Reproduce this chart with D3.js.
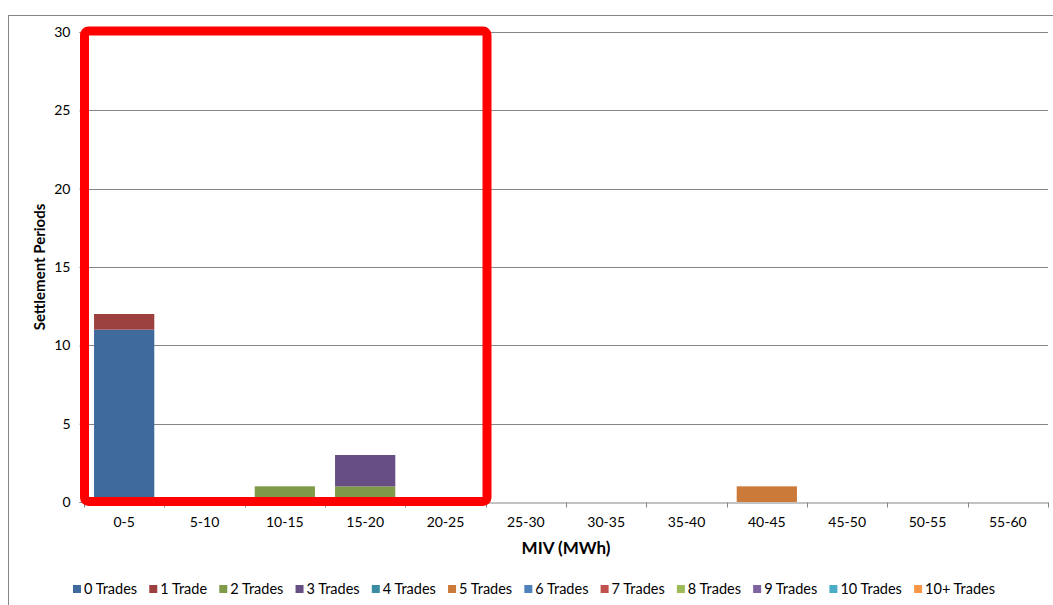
<!DOCTYPE html>
<html>
<head>
<meta charset="utf-8">
<script src="https://cdn.jsdelivr.net/npm/d3@7/dist/d3.min.js"></script>
<style>
  html, body { margin: 0; padding: 0; background: #fff; }
  svg { display: block; font-family: Lato, "Open Sans", sans-serif; }
</style>
</head>
<body>
<svg id="chart" width="1053" height="605"></svg>
<script>
const categories = ["0-5","5-10","10-15","15-20","20-25","25-30","30-35","35-40","40-45","45-50","50-55","55-60"];
const seriesNames = ["0 Trades","1 Trade","2 Trades","3 Trades","4 Trades","5 Trades","6 Trades","7 Trades","8 Trades","9 Trades","10 Trades","10+ Trades"];
const seriesColors = ["#3E6A9C","#9C413F","#7F9A48","#674F86","#3A8CA3","#CC7A3A","#4F81BD","#C0504D","#9BBB59","#8064A2","#4BACC6","#F79646"];
const trades0  = [11,0,0,0,0,0,0,0,0,0,0,0];
const trades1  = [1,0,0,0,0,0,0,0,0,0,0,0];
const trades2  = [0,0,1,1,0,0,0,0,0,0,0,0];
const trades3  = [0,0,0,2,0,0,0,0,0,0,0,0];
const trades4  = [0,0,0,0,0,0,0,0,0,0,0,0];
const trades5  = [0,0,0,0,0,0,0,0,1,0,0,0];
const trades6  = [0,0,0,0,0,0,0,0,0,0,0,0];
const trades7  = [0,0,0,0,0,0,0,0,0,0,0,0];
const trades8  = [0,0,0,0,0,0,0,0,0,0,0,0];
const trades9  = [0,0,0,0,0,0,0,0,0,0,0,0];
const trades10 = [0,0,0,0,0,0,0,0,0,0,0,0];
const trades10p= [0,0,0,0,0,0,0,0,0,0,0,0];
const yTicks = [0,5,10,15,20,25,30];
const xTitle = "MIV (MWh)";
const yTitle = "Settlement Periods";

(function(){
const allSeries = [trades0,trades1,trades2,trades3,trades4,trades5,trades6,trades7,trades8,trades9,trades10,trades10p];
const table = categories.map((c,i) => {
  const row = {cat: c};
  seriesNames.forEach((s,j) => row[s] = allSeries[j][i]);
  return row;
});

const svg = d3.select("#chart");
const pL = 84, pR = 1048, pT = 32, pB = 502;
const FONT = "Lato, 'Open Sans', sans-serif";

// outer chart border
svg.append("rect").attr("x",8.5).attr("y",15.5).attr("width",1053).attr("height",700)
  .attr("fill","none").attr("stroke","#868686").attr("stroke-width",1);

const x = d3.scaleBand().domain(categories).range([pL,pR]).paddingInner(0.25).paddingOuter(0.125);
const y = d3.scaleLinear().domain([0,30]).range([pB,pT]);

// gridlines
svg.append("g").selectAll("line").data(yTicks.filter(d=>d>0)).join("line")
  .attr("x1",pL).attr("x2",pR)
  .attr("y1",d=>Math.round(y(d))+0.5).attr("y2",d=>Math.round(y(d))+0.5)
  .attr("stroke","#868686").attr("stroke-width",1);

// stacked bars
const stack = d3.stack().keys(seriesNames)(table);
svg.append("g").selectAll("g").data(stack).join("g")
  .attr("fill",(d,i)=>seriesColors[i])
  .selectAll("rect").data(d=>d.filter(v=>v[1]-v[0]>0)).join("rect")
  .attr("x",d=>x(d.data.cat))
  .attr("width",x.bandwidth())
  .attr("y",d=>y(d[1]))
  .attr("height",d=>y(d[0])-y(d[1]));

// y axis
const yAxis = d3.axisLeft(y).tickValues(yTicks).tickSize(5).tickPadding(9).tickFormat(d3.format("d"));
const yg = svg.append("g").attr("transform",`translate(${pL+0.5},0)`).call(yAxis);
yg.select(".domain").attr("stroke","#868686");
yg.selectAll(".tick line").attr("stroke","#868686");
yg.selectAll(".tick text").attr("font-size",14).attr("fill","#000").attr("font-family",FONT);

// x axis
const xg = svg.append("g").attr("transform",`translate(0,${pB+0.5})`)
  .call(d3.axisBottom(x).tickSize(0).tickPadding(15));
xg.select(".domain").attr("stroke","#868686");
xg.selectAll(".tick text").attr("font-size",14).attr("fill","#000").attr("font-family",FONT);
// category boundary ticks
const bounds = categories.map(c => x(c) - x.step()*x.paddingInner()/2).concat([pR]);
xg.append("g").selectAll("line").data(bounds).join("line")
  .attr("x1",d=>Math.round(d)+0.5).attr("x2",d=>Math.round(d)+0.5)
  .attr("y1",0).attr("y2",5).attr("stroke","#868686");

// axis titles
svg.append("text").attr("x",(pL+pR)/2).attr("y",554).attr("text-anchor","middle")
  .attr("font-size",17).attr("font-weight","bold").attr("font-family",FONT).text(xTitle);
svg.append("text").attr("transform",`translate(45,${(pT+pB)/2}) rotate(-90)`)
  .attr("text-anchor","middle").attr("font-size",15).attr("font-weight","bold").attr("font-family",FONT).text(yTitle);

// legend
const legend = svg.append("g");
const items = legend.selectAll("g").data(seriesNames).join("g");
items.append("rect").attr("width",8).attr("height",8).attr("y",-9).attr("fill",(d,i)=>seriesColors[i]);
items.append("text").attr("x",11).attr("y",0).attr("font-size",14.5).attr("font-family",FONT).text(d=>d);
const widths = [];
items.each(function(){ widths.push(11 + d3.select(this).select("text").node().getComputedTextLength()); });
const startX = 73, endX = 995;
const gap = (endX - startX - d3.sum(widths)) / (widths.length - 1);
let cx = startX;
items.each(function(d,i){ d3.select(this).attr("transform",`translate(${cx},594)`); cx += widths[i] + gap; });

// red annotation rectangle
svg.append("rect").attr("x",84.5).attr("y",31).attr("width",402.5).attr("height",470.5)
  .attr("rx",4).attr("fill","none").attr("stroke","#FF0000").attr("stroke-width",9);
})();
</script>
</body>
</html>
